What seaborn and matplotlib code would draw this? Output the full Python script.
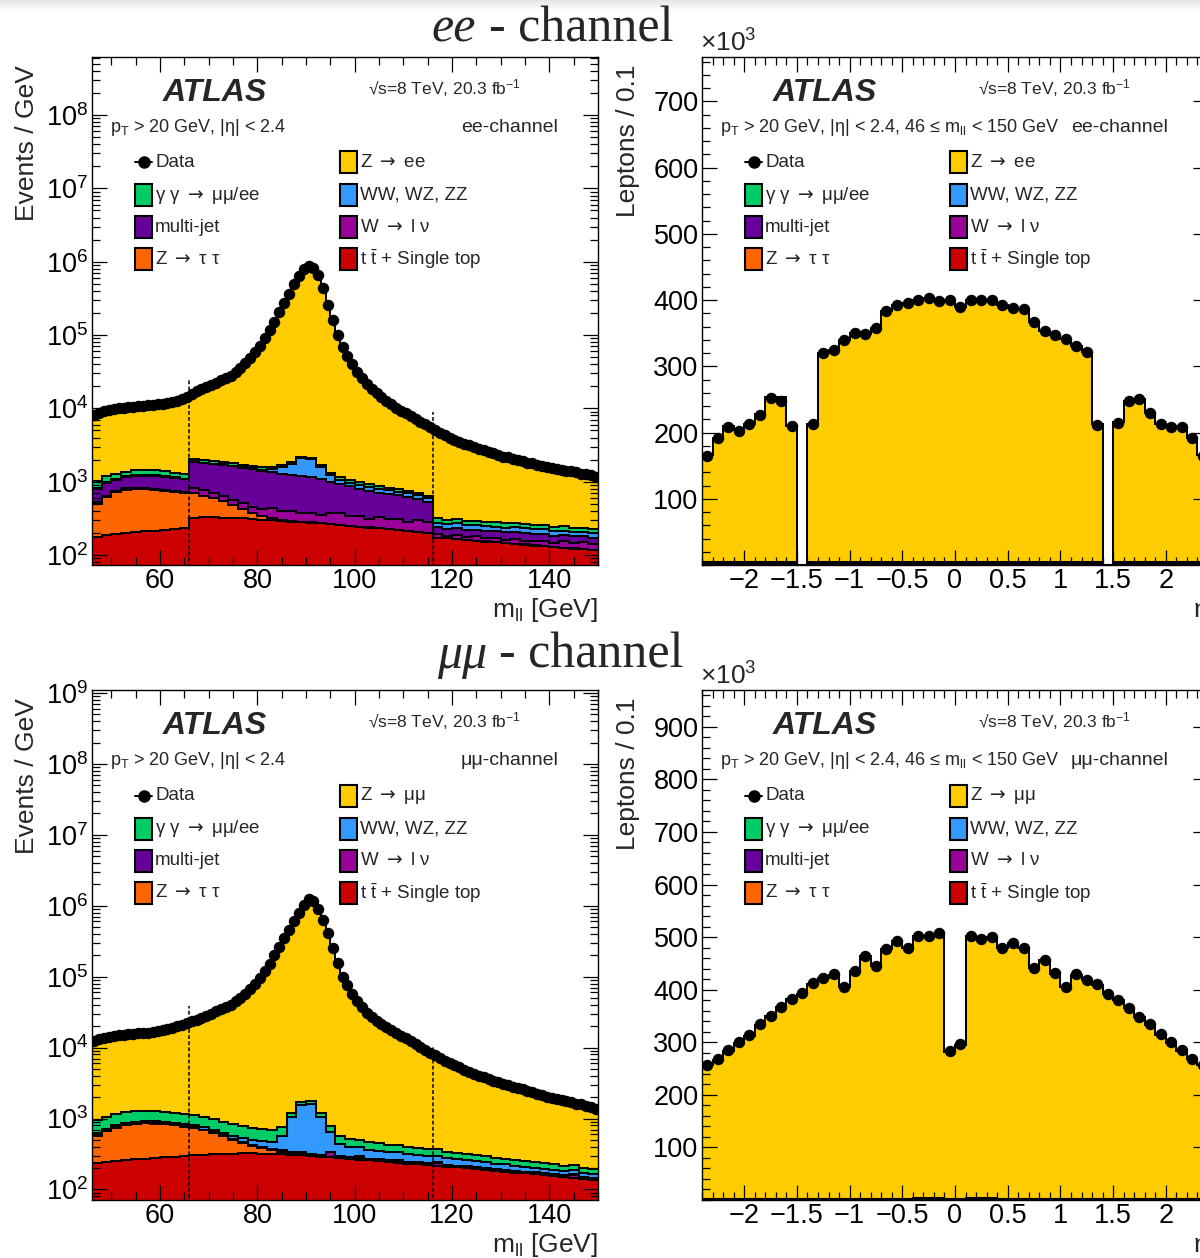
import numpy as np
import matplotlib
matplotlib.use("Agg")
import matplotlib.pyplot as plt
import seaborn as sns
from matplotlib.patches import Rectangle
from matplotlib.ticker import (FixedLocator, MultipleLocator, LogLocator,
                               NullFormatter, FuncFormatter)

sns.set_theme(style="ticks")
plt.rcParams["font.family"] = ["Liberation Sans", "DejaVu Sans"]
plt.rcParams["mathtext.fontset"] = "custom"
plt.rcParams["mathtext.rm"] = "Liberation Sans"
plt.rcParams["mathtext.it"] = "Liberation Sans:italic"
plt.rcParams["mathtext.bf"] = "Liberation Sans:bold"
plt.rcParams["mathtext.sf"] = "DejaVu Sans"
plt.rcParams["axes.unicode_minus"] = True

# ---------------------------------------------------------------------------
# Dilepton invariant mass, 46-150 GeV.  Data and Z signal in 1 GeV bins,
# backgrounds in 2 GeV bins (events / GeV).
# ---------------------------------------------------------------------------
mll_edges = np.arange(46, 151, 1)
mll_bkg_edges = np.arange(46, 151, 2)
mll_centers = 0.5 * (mll_edges[:-1] + mll_edges[1:])

ee_data = [
    8200, 8710, 9120, 9550, 9770, 10000, 10230, 10350, 10470, 10720,
    10840, 10960, 11220, 11350, 11480, 11750, 12160, 12590, 13490, 14450,
    15850, 16980, 18200, 19500, 20900, 22390, 23990, 26300, 27540, 30900,
    35480, 41690, 48980, 58880, 70790, 91200, 117500, 151400, 204200, 275400,
    363100, 489800, 645700, 794300, 871000, 831800, 660700, 436500, 257000, 162200,
    100000, 69180, 51290, 39810, 31620, 25700, 21380, 18620, 16220, 14130,
    12590, 11480, 10230, 9330, 8510, 7760, 7080, 6460, 6030, 5500,
    5010, 4680, 4270, 3980, 3720, 3470, 3310, 3160, 2950, 2820,
    2690, 2570, 2450, 2290, 2190, 2140, 2040, 1950, 1905, 1820,
    1780, 1700, 1660, 1585, 1550, 1480, 1445, 1410, 1380, 1350,
    1290, 1260, 1230, 1175]
ee_zee = [
    7180, 7690, 7930, 8360, 8480, 8710, 8860, 8980, 9040, 9290,
    9390, 9510, 9800, 9930, 10100, 10370, 10830, 11260, 12210, 13170,
    13790, 14920, 16220, 17520, 18990, 20480, 22140, 24450, 25760, 29120,
    33780, 39990, 47350, 57250, 69220, 89630, 115900, 149800, 202500, 273700,
    361300, 488000, 643500, 792100, 868900, 829700, 659000, 434800, 255700, 160900,
    98850, 68030, 50240, 38760, 30650, 24730, 20460, 17700, 15350, 13260,
    11760, 10650, 9440, 8540, 7755, 7005, 6375, 5755, 5390, 4860,
    4690, 4360, 3960, 3670, 3415, 3165, 3010, 2860, 2655, 2525,
    2400, 2280, 2165, 2005, 1910, 1860, 1768, 1678, 1640, 1555,
    1522, 1442, 1408, 1333, 1304, 1234, 1205, 1170, 1146, 1116,
    1061, 1031, 1005, 950]
ee_ttbar = [178, 185, 192, 198, 205, 210, 215, 220, 225, 230,
            324, 325, 325, 323, 320, 315, 308, 302, 296, 290, 283, 278, 273, 270, 264,
            257, 248, 242, 236, 230, 224, 218, 212, 206, 200,
            172, 168, 164, 160, 156, 152, 149, 145, 141, 138, 134, 131, 128, 125, 122, 119, 116]
ee_ztautau = [320, 435, 528, 582, 595, 590, 565, 530, 495, 460,
              366, 315, 265, 214, 160, 105, 62, 38, 22, 12, 8, 6, 5, 4, 3,
              3, 2, 2, 2, 2, 1, 1, 1, 1, 1,
              1, 1, 1, 1, 1, 1, 1, 1, 1, 1, 1, 1, 1, 1, 1, 1, 1]
ee_wlnu = [22, 26, 24, 27, 25, 28, 24, 26, 25, 27,
           120, 120, 110, 93, 90, 90, 80, 80, 115, 90, 105, 85, 100, 80, 105,
           110, 85, 95, 75, 100, 80, 95, 70, 95, 85,
           18, 15, 20, 14, 22, 16, 19, 15, 24, 18, 20, 25, 17, 28, 22, 30, 26]
ee_multijet = [275, 315, 325, 345, 375, 385, 385, 375, 365, 355,
               1060, 1040, 1040, 1060, 1050, 1040, 1030, 1000, 917, 898, 844, 831, 772, 736, 628,
               560, 525, 461, 437, 378, 375, 336, 337, 278, 234,
               49, 44, 48, 45, 43, 46, 41, 42, 40, 41, 38, 37, 38, 33, 35, 30, 29]
ee_diboson = [25, 26, 27, 28, 29, 30, 30, 31, 31, 32,
              25, 25, 25, 25, 28, 30, 35, 45, 130, 300, 520, 880, 900, 500, 250,
              140, 110, 100, 95, 90, 85, 80, 80, 75, 75,
              37, 36, 36, 35, 35, 34, 34, 33, 33, 32, 31, 30, 29, 28, 27, 26, 25]
ee_gamgam = [200, 200, 195, 195, 200, 210, 205, 195, 185, 175,
             170, 160, 150, 140, 130, 122, 115, 108, 100, 95, 90, 85, 82, 80, 80,
             80, 78, 75, 72, 68, 64, 60, 55, 50, 45,
             39, 38, 38, 37, 36, 35, 35, 34, 33, 32, 32, 31, 30, 30, 29, 28, 28]

mm_data = [
    12300, 13180, 13800, 14290, 14620, 14960, 15140, 15310, 15490, 15850,
    16030, 16220, 16600, 17180, 17780, 18410, 19050, 19950, 20890, 22130,
    23440, 24550, 26300, 28180, 30200, 32360, 34670, 37150, 39810, 44670,
    50120, 57540, 67610, 79430, 95500, 120200, 151400, 199500, 263000, 346700,
    457100, 602600, 794300, 1023000, 1230000, 1175000, 912000, 631000, 407400, 251200,
    154900, 100000, 75860, 57540, 45710, 37150, 30900, 26920, 23990, 21380,
    19500, 17780, 16220, 14790, 13490, 12300, 11220, 10230, 9330, 8510,
    7760, 7080, 6460, 6030, 5620, 5250, 4900, 4570, 4270, 3980,
    3800, 3630, 3390, 3240, 3090, 2950, 2820, 2690, 2570, 2450,
    2340, 2240, 2140, 2040, 1950, 1905, 1820, 1740, 1700, 1620,
    1585, 1510, 1445, 1380]
mm_zmumu = [
    11350, 12230, 12735, 13225, 13460, 13800, 13910, 14080, 14210, 14570,
    14740, 14930, 15320, 15900, 16530, 17160, 17850, 18750, 19740, 20980,
    22330, 23440, 25260, 27140, 29230, 31390, 33770, 36250, 38980, 43840,
    49340, 56760, 66870, 78690, 94800, 119500, 150700, 198800, 262200, 345900,
    455900, 601400, 792600, 1021300, 1228200, 1173200, 910800, 629800, 406600, 250400,
    154300, 99440, 75350, 57030, 45210, 36650, 30440, 26460, 23540, 20930,
    19070, 17350, 15800, 14370, 13100, 11910, 10840, 9850, 8960, 8140,
    7390, 6710, 6105, 5675, 5275, 4905, 4565, 4235, 3945, 3655,
    3485, 3315, 3085, 2935, 2795, 2655, 2535, 2405, 2295, 2175,
    2075, 1975, 1885, 1785, 1705, 1660, 1585, 1505, 1475, 1395,
    1375, 1300, 1250, 1185]
mm_ttbar = [235, 245, 253, 260, 266, 272, 277, 283, 290, 297,
            303, 310, 315, 318, 320, 322, 322, 320, 316, 312,
            307, 302, 297, 291, 285, 278, 271, 264, 257, 250,
            243, 237, 232, 226, 221,
            216, 210, 205, 199, 194, 188, 183, 178, 173, 168, 163, 158, 153, 149, 144, 140, 135]
mm_ztautau = [325, 415, 487, 540, 574, 583, 573, 547, 510, 473,
              437, 370, 305, 242, 180, 128, 88, 60, 39, 23,
              13, 8, 6, 5, 4, 3, 3, 2, 2, 2,
              2, 1, 1, 1, 1,
              1, 1, 1, 1, 1, 1, 1, 1, 1, 1, 1, 1, 1, 1, 1, 1, 1]
mm_wlnu = [5, 4, 6, 5, 4, 5, 6, 4, 5, 6,
           5, 4, 6, 5, 4, 5, 6, 4, 5, 20,
           5, 15, 4, 5, 45, 4, 5, 20, 4, 6,
           5, 15, 5, 6, 5,
           20, 5, 4, 5, 4, 5, 4, 6, 5, 4, 5, 4, 5, 4, 15, 5, 4]
mm_multijet = [25, 24, 23, 22, 21, 20, 19, 18, 17, 16,
               15, 14, 13, 12, 12, 11, 11, 10, 10, 10,
               9, 9, 9, 9, 8, 8, 8, 8, 8, 7,
               7, 7, 7, 7, 7,
               6, 6, 6, 6, 6, 6, 6, 6, 5, 5, 5, 5, 5, 5, 5, 5, 5]
mm_diboson = [30, 32, 34, 35, 37, 38, 40, 42, 44, 46,
              48, 50, 52, 55, 58, 62, 70, 85, 100, 200,
              700, 1200, 1300, 740, 300, 150, 110, 100, 92, 86,
              80, 74, 68, 62, 60,
              57, 54, 51, 48, 45, 40, 37, 34, 32, 30, 28, 26, 24, 22, 20, 19, 18]
mm_gamgam = [330, 345, 360, 370, 375, 375, 370, 355, 335, 315,
             300, 290, 280, 270, 260, 250, 240, 225, 210, 195,
             180, 165, 150, 140, 130, 120, 112, 106, 100, 95,
             90, 85, 80, 76, 72,
             68, 65, 62, 59, 56, 53, 50, 48, 46, 44, 42, 40, 38, 36, 34, 32, 30]

# mass-window boundaries marked with dashed lines, and the height they reach
cut_masses = [66, 116]
ee_cut_tops = [2.6e4, 8.9e3]
mm_cut_tops = [3.85e4, 1.08e4]

# ---------------------------------------------------------------------------
# Lepton pseudorapidity, 0.1 wide bins (leptons / 0.1, in units of 10^3)
# ---------------------------------------------------------------------------
eta_edges = np.round(np.linspace(-2.4, 2.4, 49), 2)
eta_centers = 0.5 * (eta_edges[:-1] + eta_edges[1:])

ee_eta_data = [165, 191, 209, 203, 213, 227, 252, 247, 210, 0,
               213, 320, 325, 340, 350, 349, 358, 383, 393, 396,
               400, 403, 398, 400, 389, 400, 400, 400, 393, 388,
               387, 367, 353, 347, 341, 331, 321, 212, 0, 215,
               247, 250, 229, 213, 208, 209, 192, 165]
ee_eta_zee = [161, 187, 205, 199, 209, 223, 249, 249, 206, 0,
              209, 316, 321, 336, 346, 345, 354, 379, 389, 392,
              396, 399, 394, 396, 385, 396, 396, 396, 389, 384,
              383, 363, 349, 343, 337, 327, 317, 208, 0, 211,
              244, 247, 225, 209, 204, 205, 188, 161]
ee_eta_ttbar = [0.70, 0.75, 0.80, 0.80, 0.85, 0.90, 0.90, 0.95, 0.95, 0.00,
                1.00, 1.05, 1.05, 1.10, 1.10, 1.10, 1.15, 1.15, 1.15, 1.15,
                1.20, 1.20, 1.20, 1.20, 1.20, 1.20, 1.20, 1.20, 1.15, 1.15,
                1.15, 1.15, 1.10, 1.10, 1.10, 1.05, 1.05, 1.00, 0.00, 0.95,
                0.95, 0.90, 0.90, 0.85, 0.80, 0.80, 0.75, 0.70]
ee_eta_ztautau = [0.40, 0.42, 0.44, 0.45, 0.46, 0.47, 0.48, 0.49, 0.50, 0.00,
                  0.50, 0.51, 0.52, 0.52, 0.53, 0.53, 0.54, 0.54, 0.54, 0.55,
                  0.55, 0.55, 0.55, 0.55, 0.55, 0.55, 0.55, 0.55, 0.54, 0.54,
                  0.54, 0.53, 0.53, 0.52, 0.52, 0.51, 0.50, 0.50, 0.00, 0.49,
                  0.48, 0.47, 0.46, 0.45, 0.44, 0.43, 0.42, 0.40]
ee_eta_wlnu = [0.50, 0.48, 0.46, 0.45, 0.44, 0.43, 0.42, 0.41, 0.40, 0.00,
               0.40, 0.39, 0.39, 0.38, 0.38, 0.37, 0.37, 0.37, 0.36, 0.36,
               0.36, 0.36, 0.36, 0.36, 0.36, 0.36, 0.36, 0.36, 0.36, 0.37,
               0.37, 0.37, 0.38, 0.38, 0.39, 0.39, 0.40, 0.40, 0.00, 0.41,
               0.42, 0.43, 0.44, 0.45, 0.46, 0.46, 0.48, 0.50]
ee_eta_multijet = [2.20, 2.10, 2.00, 1.90, 1.85, 1.80, 1.75, 1.70, 1.65, 0.00,
                   1.60, 1.55, 1.50, 1.45, 1.40, 1.40, 1.35, 1.35, 1.30, 1.30,
                   1.30, 1.30, 1.30, 1.30, 1.30, 1.30, 1.30, 1.30, 1.30, 1.30,
                   1.35, 1.35, 1.40, 1.40, 1.45, 1.50, 1.55, 1.60, 0.00, 1.65,
                   1.70, 1.75, 1.80, 1.85, 1.90, 2.00, 2.10, 2.20]
ee_eta_diboson = [0.20, 0.21, 0.22, 0.23, 0.24, 0.25, 0.26, 0.27, 0.27, 0.00,
                  0.28, 0.29, 0.29, 0.30, 0.30, 0.31, 0.31, 0.31, 0.32, 0.32,
                  0.32, 0.32, 0.32, 0.32, 0.32, 0.32, 0.32, 0.32, 0.32, 0.32,
                  0.31, 0.31, 0.31, 0.30, 0.30, 0.29, 0.29, 0.28, 0.00, 0.27,
                  0.27, 0.26, 0.25, 0.24, 0.23, 0.22, 0.21, 0.20]
ee_eta_gamgam = [0.35, 0.36, 0.37, 0.38, 0.39, 0.40, 0.41, 0.42, 0.42, 0.00,
                 0.43, 0.44, 0.44, 0.45, 0.45, 0.46, 0.46, 0.46, 0.47, 0.47,
                 0.47, 0.47, 0.47, 0.47, 0.47, 0.47, 0.47, 0.47, 0.47, 0.47,
                 0.46, 0.46, 0.46, 0.45, 0.45, 0.44, 0.44, 0.43, 0.00, 0.42,
                 0.42, 0.41, 0.40, 0.39, 0.38, 0.37, 0.36, 0.35]

mm_eta_data = [257, 268, 285, 300, 313, 334, 350, 367, 383, 393,
               412, 423, 429, 405, 435, 464, 445, 478, 492, 480,
               503, 503, 507, 283, 297, 503, 496, 500, 480, 489,
               480, 442, 456, 431, 405, 429, 418, 410, 392, 380,
               365, 348, 334, 315, 300, 285, 269, 257]
mm_eta_zmumu = [254, 265, 282, 297, 310, 331, 347, 364, 380, 390,
                409, 420, 426, 402, 432, 461, 442, 475, 489, 477,
                500, 500, 504, 280, 294, 500, 493, 497, 477, 486,
                477, 439, 453, 428, 402, 426, 415, 407, 389, 377,
                362, 345, 331, 312, 297, 282, 266, 254]
mm_eta_ttbar = [0.70, 0.74, 0.78, 0.82, 0.86, 0.90, 0.93, 0.96, 0.99, 1.02,
                1.04, 1.06, 1.08, 1.10, 1.11, 1.12, 1.13, 1.14, 1.15, 1.15,
                1.16, 1.16, 1.16, 0.66, 0.66, 1.16, 1.16, 1.16, 1.15, 1.15,
                1.14, 1.13, 1.12, 1.11, 1.10, 1.08, 1.06, 1.04, 1.02, 0.99,
                0.96, 0.93, 0.90, 0.86, 0.82, 0.78, 0.74, 0.70]
mm_eta_ztautau = [0.40, 0.42, 0.44, 0.46, 0.48, 0.50, 0.51, 0.52, 0.53, 0.54,
                  0.55, 0.56, 0.57, 0.57, 0.58, 0.58, 0.59, 0.59, 0.59, 0.60,
                  0.60, 0.60, 0.60, 0.34, 0.35, 0.60, 0.60, 0.60, 0.60, 0.59,
                  0.59, 0.59, 0.58, 0.58, 0.57, 0.57, 0.56, 0.55, 0.54, 0.53,
                  0.52, 0.51, 0.50, 0.48, 0.46, 0.44, 0.42, 0.40]
mm_eta_wlnu = [0.04, 0.04, 0.04, 0.04, 0.04, 0.05, 0.05, 0.05, 0.05, 0.05,
               0.05, 0.05, 0.05, 0.05, 0.05, 0.05, 0.05, 0.05, 0.05, 0.05,
               0.05, 0.05, 0.05, 0.03, 0.03, 0.05, 0.05, 0.05, 0.05, 0.05,
               0.05, 0.05, 0.05, 0.05, 0.05, 0.05, 0.05, 0.05, 0.05, 0.05,
               0.05, 0.05, 0.05, 0.04, 0.04, 0.04, 0.04, 0.04]
mm_eta_multijet = [0.08, 0.08, 0.07, 0.07, 0.07, 0.07, 0.06, 0.06, 0.06, 0.06,
                   0.06, 0.06, 0.06, 0.06, 0.06, 0.06, 0.06, 0.06, 0.06, 0.06,
                   0.06, 0.06, 0.06, 0.03, 0.03, 0.06, 0.06, 0.06, 0.06, 0.06,
                   0.06, 0.06, 0.06, 0.06, 0.06, 0.06, 0.06, 0.06, 0.06, 0.06,
                   0.06, 0.06, 0.07, 0.07, 0.07, 0.07, 0.08, 0.08]
mm_eta_diboson = [0.24, 0.25, 0.26, 0.27, 0.28, 0.29, 0.30, 0.31, 0.32, 0.33,
                  0.34, 0.35, 0.35, 0.36, 0.36, 0.37, 0.37, 0.37, 0.38, 0.38,
                  0.38, 0.38, 0.38, 0.22, 0.23, 0.38, 0.38, 0.38, 0.38, 0.38,
                  0.37, 0.37, 0.37, 0.36, 0.36, 0.35, 0.35, 0.34, 0.33, 0.32,
                  0.31, 0.30, 0.29, 0.28, 0.27, 0.26, 0.25, 0.24]
mm_eta_gamgam = [0.40, 0.42, 0.44, 0.46, 0.48, 0.50, 0.52, 0.53, 0.54, 0.55,
                 0.56, 0.57, 0.58, 0.58, 0.59, 0.59, 0.60, 0.60, 0.60, 0.60,
                 0.61, 0.61, 0.61, 0.35, 0.35, 0.61, 0.61, 0.61, 0.60, 0.60,
                 0.60, 0.60, 0.59, 0.59, 0.58, 0.58, 0.57, 0.56, 0.55, 0.54,
                 0.53, 0.52, 0.50, 0.48, 0.46, 0.44, 0.42, 0.40]

# ---------------------------------------------------------------------------
SIG_COLOR = "#FFCC00"
# backgrounds, stacked bottom -> top
BKG_COLORS = ["#CC0000", "#FF6600", "#990099", "#660099", "#3399FF", "#00CC66"]
OUTLINE_LW = 1.45

W, H = 1200, 1258
fig = plt.figure(figsize=(W / 100, H / 100), dpi=100)
fig.patch.set_facecolor("white")

# soft grey band along the upper edge of the page
band = fig.add_axes([0, 1 - 12 / H, 1, 12 / H])
band.imshow(np.linspace(0.90, 1.0, 12)[:, None], cmap="gray", vmin=0, vmax=1,
            aspect="auto", extent=[0, 1, 0, 1])
band.set_axis_off()


def px_axes(left, top, right, bottom):
    return fig.add_axes([left / W, 1 - bottom / H, (right - left) / W, (bottom - top) / H])


def draw_stack(ax, bkg_edges, bkgs, sig_edges, sig, baseline):
    cum = np.cumsum(np.array(bkgs, dtype=float), axis=0)
    per = (len(sig_edges) - 1) // (len(bkg_edges) - 1)
    top = np.asarray(sig, dtype=float) + np.repeat(cum[-1], per)
    layers = [(sig_edges, top, SIG_COLOR)]
    for i in reversed(range(len(bkgs))):
        layers.append((bkg_edges, cum[i], BKG_COLORS[i]))
    for edges, vals, col in layers:
        ax.stairs(vals, edges, baseline=baseline, fill=True, color=col, lw=0)
        ax.stairs(vals, edges, baseline=None, color="black", lw=OUTLINE_LW)


def draw_data(ax, centers, vals):
    vals = np.asarray(vals, dtype=float)
    keep = vals > 0
    sns.scatterplot(x=centers[keep], y=vals[keep], ax=ax, color="black", s=68,
                    linewidth=0, zorder=4, legend=False)


def style_axes(ax):
    ax.set_axisbelow(False)
    ax.tick_params(axis="both", which="both", direction="in", top=True, right=True,
                   labelsize=19.5, width=0.9, colors="black")
    ax.tick_params(which="major", length=10.5)
    ax.tick_params(which="minor", length=5.5)
    ax.tick_params(axis="x", pad=2)
    ax.tick_params(axis="y", pad=2.5)
    for s in ax.spines.values():
        s.set_linewidth(1.0)
        s.set_color("black")
        s.set_visible(True)


ARROW = r"$\mathsf{\rightarrow}$"


def decorate(ax, region_text, channel_text, signal_label):
    t = ax.transAxes
    ax.text(0.140, 0.914, "ATLAS", transform=t, fontsize=23, fontweight="bold",
            fontstyle="italic", ha="left", va="baseline")
    ax.text(0.545, 0.926, r"√s=8 TeV, 20.3 fb$^{-1}$", transform=t, fontsize=12.5,
            ha="left", va="baseline")
    ax.text(0.036, 0.853, region_text, transform=t, fontsize=13, ha="left", va="baseline")
    ax.text(0.729, 0.853, channel_text, transform=t, fontsize=14, ha="left", va="baseline")

    rows = [0.793, 0.728, 0.665, 0.602]
    box_w, box_h = 0.034, 0.043
    left_entries = [("Data", None), ("γ γ " + ARROW + " μμ/ee", BKG_COLORS[5]),
                    ("multi-jet", BKG_COLORS[3]), ("Z " + ARROW + " τ τ", BKG_COLORS[1])]
    right_entries = [(signal_label, SIG_COLOR), ("WW, WZ, ZZ", BKG_COLORS[4]),
                     ("W " + ARROW + " l ν", BKG_COLORS[2]),
                     (r"t $\bar{\rm t}$ + Single top", BKG_COLORS[0])]
    for col_x, entries in ((0.085, left_entries), (0.490, right_entries)):
        for y, (label, color) in zip(rows, entries):
            if color is None:
                ax.plot([col_x, col_x + box_w], [y, y], transform=t, color="black",
                        lw=1.4, clip_on=False)
                ax.plot([col_x + box_w / 2], [y], "o", transform=t, color="black",
                        ms=8, clip_on=False)
            else:
                ax.add_patch(Rectangle((col_x, y - box_h / 2), box_w, box_h, transform=t,
                                       facecolor=color, edgecolor="black", lw=1.5,
                                       clip_on=False, zorder=5))
            ax.text(col_x + box_w + 0.006, y, label, transform=t, fontsize=13.5,
                    ha="left", va="center")


def setup_mass_axes(ax, ylim):
    ax.set_yscale("log")
    ax.set_xlim(46, 150)
    ax.set_ylim(*ylim)
    ax.xaxis.set_major_locator(MultipleLocator(20))
    ax.xaxis.set_minor_locator(MultipleLocator(5))
    ax.yaxis.set_major_locator(LogLocator(base=10, numticks=20))
    ax.yaxis.set_minor_locator(LogLocator(base=10, subs=np.arange(2, 10), numticks=200))
    ax.yaxis.set_minor_formatter(NullFormatter())
    style_axes(ax)
    ax.text(-0.128, 0.984, "Events / GeV", transform=ax.transAxes, rotation=90,
            fontsize=19, ha="center", va="top")
    ax.text(1.0, -0.102, r"m$_{\rm ll}$ [GeV]", transform=ax.transAxes, fontsize=19,
            ha="right", va="baseline")


eta_major = [-2, -1.5, -1, -0.5, 0, 0.5, 1, 1.5, 2]


def setup_eta_axes(ax, ytop, yticks):
    ax.set_xlim(-2.4, 2.4)
    ax.set_ylim(0, ytop)
    ax.xaxis.set_major_locator(FixedLocator(eta_major))
    ax.xaxis.set_major_formatter(FuncFormatter(lambda v, p: ("%g" % v).replace("-", "\u2212")))
    ax.xaxis.set_minor_locator(MultipleLocator(0.1))
    ax.yaxis.set_major_locator(FixedLocator(yticks))
    ax.yaxis.set_minor_locator(MultipleLocator(20))
    style_axes(ax)
    ax.text(-0.146, 0.986, "Leptons / 0.1", transform=ax.transAxes, rotation=90,
            fontsize=19, ha="center", va="top")
    ax.text(1.0, -0.102, "η", transform=ax.transAxes, fontsize=19, ha="right",
            va="baseline")
    ax.text(-0.004, 1.027, r"×10$^{3}$", transform=ax.transAxes, fontsize=19,
            ha="left", va="center")


region_mass = r"p$_{\rm T}$ > 20 GeV, |η| < 2.4"
region_eta = r"p$_{\rm T}$ > 20 GeV, |η| < 2.4, 46 ≤ m$_{\rm ll}$ < 150 GeV"

# ---- ee channel -----------------------------------------------------------
ax1 = px_axes(92, 57, 598, 565)
draw_stack(ax1, mll_bkg_edges,
           [ee_ttbar, ee_ztautau, ee_wlnu, ee_multijet, ee_diboson, ee_gamgam],
           mll_edges, ee_zee, baseline=1.0)
for m, top in zip(cut_masses, ee_cut_tops):
    ax1.plot([m, m], [1.0, top], color="black", lw=1.1, ls=(0, (2.5, 1.5)), zorder=3)
draw_data(ax1, mll_centers, ee_data)
setup_mass_axes(ax1, (73, 6.2e8))
decorate(ax1, region_mass, "ee-channel", "Z " + ARROW + " ee")

ax2 = px_axes(702, 57, 1208, 565)
draw_stack(ax2, eta_edges,
           [ee_eta_ttbar, ee_eta_ztautau, ee_eta_wlnu, ee_eta_multijet,
            ee_eta_diboson, ee_eta_gamgam],
           eta_edges, ee_eta_zee, baseline=0)
draw_data(ax2, eta_centers, ee_eta_data)
setup_eta_axes(ax2, 767, [100, 200, 300, 400, 500, 600, 700])
decorate(ax2, region_eta, "ee-channel", "Z " + ARROW + " ee")

# ---- mumu channel -----------------------------------------------------------
ax3 = px_axes(92, 690, 598, 1200)
draw_stack(ax3, mll_bkg_edges,
           [mm_ttbar, mm_ztautau, mm_wlnu, mm_multijet, mm_diboson, mm_gamgam],
           mll_edges, mm_zmumu, baseline=1.0)
for m, top in zip(cut_masses, mm_cut_tops):
    ax3.plot([m, m], [1.0, top], color="black", lw=1.1, ls=(0, (2.5, 1.5)), zorder=3)
draw_data(ax3, mll_centers, mm_data)
setup_mass_axes(ax3, (71, 1.1e9))
decorate(ax3, region_mass, "μμ-channel", "Z " + ARROW + " μμ")

ax4 = px_axes(702, 690, 1208, 1200)
draw_stack(ax4, eta_edges,
           [mm_eta_ttbar, mm_eta_ztautau, mm_eta_wlnu, mm_eta_multijet,
            mm_eta_diboson, mm_eta_gamgam],
           eta_edges, mm_eta_zmumu, baseline=0)
draw_data(ax4, eta_centers, mm_eta_data)
setup_eta_axes(ax4, 970, [100, 200, 300, 400, 500, 600, 700, 800, 900])
decorate(ax4, region_eta, "μμ-channel", "Z " + ARROW + " μμ")

# ---- channel headings -------------------------------------------------------
serif = ["Liberation Serif", "DejaVu Serif"]
fig.text(476 / W, 1 - 42 / H, "ee", family=serif, style="italic", fontsize=36,
         ha="right", va="baseline")
fig.text(489 / W, 1 - 42 / H, "- channel", family=serif, fontsize=36,
         ha="left", va="baseline")
fig.text(487 / W, 1 - 668 / H, "μμ", family=serif, style="italic", fontsize=36,
         ha="right", va="baseline")
fig.text(499 / W, 1 - 668 / H, "- channel", family=serif, fontsize=36,
         ha="left", va="baseline")

fig.savefig("out.png", dpi=100)
